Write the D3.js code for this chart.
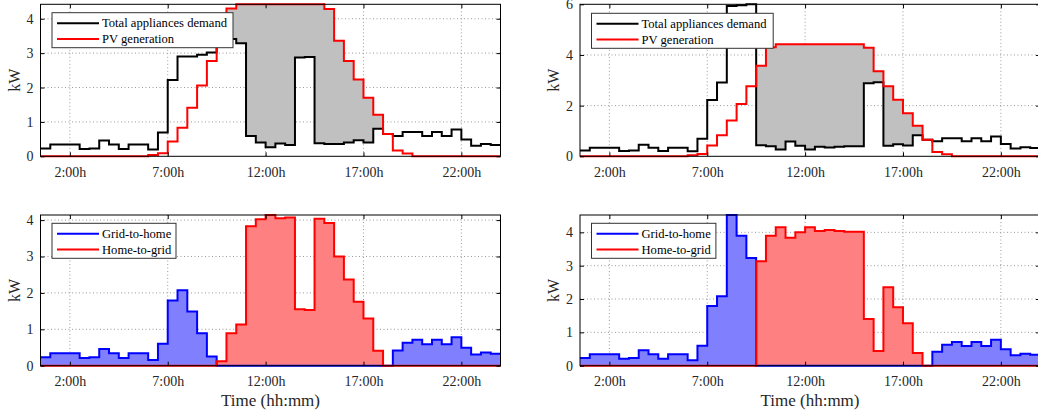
<!DOCTYPE html>
<html>
<head>
<meta charset="utf-8">
<script src="https://cdn.jsdelivr.net/npm/d3@7"></script>
<style>
    body { margin: 0; background: #fff; }
    svg { display: block; }
    svg text { font-family: "Liberation Serif", "DejaVu Serif", "Times New Roman", serif; }
    .grid line { stroke: #9a9a9a; stroke-width: 1; stroke-dasharray: 1,2.5; }
</style>
</head>
<body>
<svg id="chart" width="1038" height="414" font-family="Liberation Serif, DejaVu Serif, serif"></svg>
<script>
// half-hour time stamps (h)
var hours = [0.5,1,1.5,2,2.5,3,3.5,4,4.5,5,5.5,6,6.5,7,7.5,8,8.5,9,9.5,10,10.5,11,11.5,12,
             12.5,13,13.5,14,14.5,15,15.5,16,16.5,17,17.5,18,18.5,19,19.5,20,20.5,21,21.5,22,22.5,23,23.5,24];
var xTicks = [2, 7, 12, 17, 22];

// PV generation, same day for both cases (kW)
var pv = [0,0,0,0,0,0,0,0,0,0,0,0.04,0.09,0.43,0.83,1.41,2.06,2.77,3.57,4.30,
          4.42,4.42,4.42,4.42,4.42,4.42,4.42,4.42,4.42,4.28,3.36,2.77,2.23,1.70,1.21,0.65,0.17,0.08,
          0,0,0,0,0,0,0,0,0,0];

// case A (left)
var demandA = [0.23,0.34,0.34,0.34,0.21,0.23,0.46,0.34,0.21,0.34,
               0.34,0.20,0.69,2.22,2.90,2.90,2.95,3.02,3.45,3.41,
               3.29,0.59,0.40,0.26,0.37,0.33,2.87,2.89,0.38,0.36,
               0.36,0.40,0.47,0.40,0.80,0.65,0.59,0.71,0.71,0.59,
               0.71,0.59,0.78,0.49,0.31,0.36,0.33,0.33];
var gridToHomeA = [0.23,0.34,0.34,0.34,0.21,0.23,0.46,0.34,0.21,0.34,
                   0.34,0.16,0.60,1.79,2.07,1.49,0.89,0.25,0,0,
                   0,0,0,0,0,0,0,0,0,0,
                   0,0,0,0,0,0,0.42,0.63,0.71,0.59,
                   0.71,0.59,0.78,0.49,0.31,0.36,0.33,0.33];
var homeToGridA = [0,0,0,0,0,0,0,0,0,0,
                   0,0,0,0,0,0,0,0,0.12,0.89,
                   1.13,3.83,4.02,4.14,4.05,4.07,1.55,1.53,4.04,3.92,
                   3.00,2.37,1.76,1.30,0.41,0,0,0,0,0,
                   0,0,0,0,0,0,0,0];

// case B (right)
var demandB = [0.23,0.34,0.34,0.34,0.21,0.23,0.46,0.34,0.21,0.34,
               0.34,0.20,0.69,2.22,2.91,5.93,5.96,6.00,0.44,0.40,
               0.27,0.58,0.42,0.27,0.38,0.35,0.38,0.40,0.40,2.88,
               2.92,0.42,0.48,0.43,0.83,0.65,0.59,0.71,0.71,0.59,
               0.71,0.59,0.78,0.49,0.31,0.36,0.33,0.33];
var gridToHomeB = [0.23,0.34,0.34,0.34,0.21,0.23,0.46,0.34,0.21,0.34,
                   0.34,0.16,0.60,1.79,2.08,4.52,3.90,3.23,0,0,
                   0,0,0,0,0,0,0,0,0,0,
                   0,0,0,0,0,0,0.42,0.63,0.71,0.59,
                   0.71,0.59,0.78,0.49,0.31,0.36,0.33,0.33];
var homeToGridB = [0,0,0,0,0,0,0,0,0,0,
                   0,0,0,0,0,0,0,0,3.13,3.90,
                   4.15,3.84,4.00,4.15,4.04,4.07,4.04,4.02,4.02,1.40,
                   0.44,2.35,1.75,1.27,0.38,0,0,0,0,0,
                   0,0,0,0,0,0,0,0];

var FONT = 'Liberation Serif, DejaVu Serif, serif';
var svg = d3.select('#chart');

function panel(p) {
    var x = d3.scaleLinear().domain([0.5, 24]).range([p.left, p.right]);
    var y = d3.scaleLinear().domain([0, p.yMax]).range([p.bottom, p.top]);
    var g = svg.append('g');

    // dotted grid
    var grid = g.append('g').attr('class', 'grid');
    grid.selectAll('.gx').data(xTicks).enter().append('line')
        .attr('x1', d => x(d)).attr('x2', d => x(d))
        .attr('y1', p.top).attr('y2', p.bottom);
    grid.selectAll('.gy').data(p.yTicks.filter(d => d > 0 && d < p.yMax)).enter().append('line')
        .attr('x1', p.left).attr('x2', p.right)
        .attr('y1', d => y(d)).attr('y2', d => y(d));

    var rows = hours.map((t, i) => ({ t: t, i: i }));

    // filled areas
    p.fills.forEach(f => {
        var area = d3.area()
            .curve(d3.curveStepAfter)
            .x(d => x(d.t))
            .y0(d => y(f.lo(d.i)))
            .y1(d => y(f.hi(d.i)));
        g.append('path')
            .datum(rows)
            .attr('d', area)
            .attr('fill', f.color)
            .attr('stroke', 'none');
    });

    // stair lines
    p.lines.forEach(l => {
        var line = d3.line()
            .curve(d3.curveStepAfter)
            .x(d => x(d.t))
            .y(d => y(l.values[d.i]));
        g.append('path')
            .datum(rows)
            .attr('d', line)
            .attr('fill', 'none')
            .attr('stroke', l.color)
            .attr('stroke-width', 2);
    });

    // axes with inward ticks
    var xAxis = d3.axisBottom(x).tickValues(xTicks).tickFormat(d => d + ':00h')
        .tickSizeInner(-4).tickSizeOuter(0).tickPadding(10.5);
    var ax = g.append('g').attr('transform', 'translate(0,' + p.bottom + ')').call(xAxis);
    g.append('g').attr('transform', 'translate(0,' + p.top + ')')
        .call(d3.axisTop(x).tickValues(xTicks).tickFormat('').tickSizeInner(-4).tickSizeOuter(0));

    var yAxis = d3.axisLeft(y).tickValues(p.yTicks).tickFormat(d3.format('d'))
        .tickSizeInner(-4).tickSizeOuter(0).tickPadding(7);
    var ay = g.append('g').attr('transform', 'translate(' + p.left + ',0)').call(yAxis);
    g.append('g').attr('transform', 'translate(' + p.right + ',0)')
        .call(d3.axisRight(y).tickValues(p.yTicks).tickFormat('').tickSizeInner(-4).tickSizeOuter(0));

    g.selectAll('.domain').remove();
    g.selectAll('.tick line').attr('stroke', '#000');
    [ax, ay].forEach(a => a.attr('font-family', FONT).attr('font-size', 14)
        .selectAll('text').attr('fill', '#262626').attr('font-family', FONT));

    g.append('rect')
        .attr('x', p.left).attr('y', p.top)
        .attr('width', p.right - p.left).attr('height', p.bottom - p.top)
        .attr('fill', 'none').attr('stroke', '#000').attr('stroke-width', 1);

    // axis labels
    g.append('text')
        .attr('transform', 'translate(' + (p.left - 21) + ',' + ((p.top + p.bottom) / 2) + ') rotate(-90)')
        .attr('text-anchor', 'middle')
        .attr('font-family', FONT)
        .attr('font-size', 16)
        .attr('fill', '#262626')
        .text('kW');

    if (p.xlabel) {
        g.append('text')
            .attr('x', (p.left + p.right) / 2)
            .attr('y', p.bottom + 40)
            .attr('text-anchor', 'middle')
            .attr('font-family', FONT)
            .attr('font-size', 17)
            .attr('fill', '#262626')
            .text(p.xlabel);
    }

    // legend
    var lg = g.append('g').attr('transform', 'translate(' + (p.left + 11.5) + ',' + (p.top + p.legendTop) + ')');
    lg.append('rect')
        .attr('width', p.legendW).attr('height', 35)
        .attr('fill', '#fff').attr('stroke', '#333').attr('stroke-width', 1);
    p.lines.forEach((l, i) => {
        var yy = 10.5 + i * 15.7;
        lg.append('line')
            .attr('x1', 5).attr('x2', 47)
            .attr('y1', yy).attr('y2', yy)
            .attr('stroke', l.color).attr('stroke-width', 2);
        lg.append('text')
            .attr('x', 50).attr('y', yy + 4.3)
            .attr('font-family', FONT)
            .attr('font-size', 12.6)
            .attr('fill', '#000')
            .text(l.name);
    });
}

panel({
    left: 40.5, right: 500.5, top: 4.3, bottom: 156.3,
    yMax: d3.max(pv), yTicks: [0, 1, 2, 3, 4],
    fills: [{ color: '#c0c0c0', lo: i => demandA[i], hi: i => Math.max(pv[i], demandA[i]) }],
    lines: [{ name: 'Total appliances demand', values: demandA, color: '#000' },
            { name: 'PV generation', values: pv, color: '#ff0000' }],
    legendTop: 8.4, legendW: 181
});

panel({
    left: 580, right: 1040, top: 4.3, bottom: 156.3,
    yMax: d3.max(demandB), yTicks: [0, 2, 4, 6],
    fills: [{ color: '#c0c0c0', lo: i => demandB[i], hi: i => Math.max(pv[i], demandB[i]) }],
    lines: [{ name: 'Total appliances demand', values: demandB, color: '#000' },
            { name: 'PV generation', values: pv, color: '#ff0000' }],
    legendTop: 9, legendW: 181.7
});

panel({
    left: 40.5, right: 500.5, top: 215, bottom: 365.7,
    yMax: d3.max(homeToGridA), yTicks: [0, 1, 2, 3, 4],
    fills: [{ color: '#8080ff', lo: i => 0, hi: i => gridToHomeA[i] },
            { color: '#ff8080', lo: i => 0, hi: i => homeToGridA[i] }],
    lines: [{ name: 'Grid-to-home', values: gridToHomeA, color: '#0000ff' },
            { name: 'Home-to-grid', values: homeToGridA, color: '#ff0000' }],
    legendTop: 8.3, legendW: 124, xlabel: 'Time (hh:mm)'
});

panel({
    left: 580, right: 1040, top: 215, bottom: 365.7,
    yMax: d3.max(gridToHomeB), yTicks: [0, 1, 2, 3, 4],
    fills: [{ color: '#8080ff', lo: i => 0, hi: i => gridToHomeB[i] },
            { color: '#ff8080', lo: i => 0, hi: i => homeToGridB[i] }],
    lines: [{ name: 'Grid-to-home', values: gridToHomeB, color: '#0000ff' },
            { name: 'Home-to-grid', values: homeToGridB, color: '#ff0000' }],
    legendTop: 8.3, legendW: 124.4, xlabel: 'Time (hh:mm)'
});
</script>
</body>
</html>
